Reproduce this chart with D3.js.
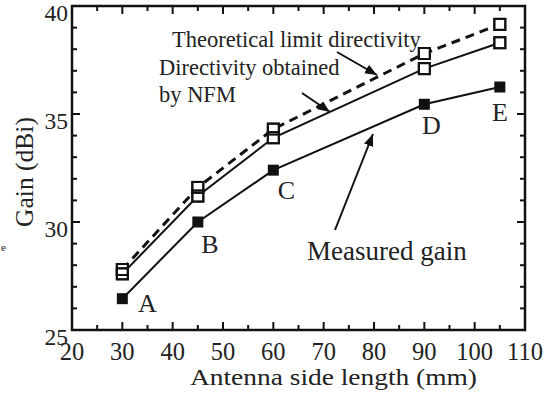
<!DOCTYPE html>
<html lang="en">
<head>
<meta charset="UTF-8">
<title>Gain vs antenna side length</title>
<script src="https://cdn.jsdelivr.net/npm/d3@7"></script>
<style>
  body { margin: 0; background: #fff; }
  svg text { font-family: "Liberation Serif", "DejaVu Serif", serif; fill: #222; }
</style>
</head>
<body>
<svg id="chart" width="556" height="394"></svg>
<script>
// data
var sideLength  = [30, 45, 60, 90, 105];
var theoretical = [27.8, 31.6, 34.3, 37.8, 39.15];
var nfm         = [27.6, 31.2, 33.9, 37.1, 38.3];
var measured    = [26.45, 30.0, 32.4, 35.45, 36.25];
var pointNames  = ["A", "B", "C", "D", "E"];
var xTicks = [20, 30, 40, 50, 60, 70, 80, 90, 100, 110];
var yTicks = [25, 30, 35, 40];

var svg = d3.select("#chart");
var x = d3.scaleLinear().domain([20, 110]).range([72, 525]);
var y = d3.scaleLinear().domain([25, 40]).range([330, 6]);

// ticks on all four sides, pointing inward
var minorX = d3.range(20, 111, 5), minorY = d3.range(25, 41, 1);
var tk = svg.append("g").attr("stroke", "#111").attr("stroke-width", 2);
minorX.forEach(function (v) {
    var len = v % 10 === 0 ? 8 : 5;
    tk.append("line").attr("x1", x(v)).attr("x2", x(v)).attr("y1", y(25)).attr("y2", y(25) - len);
    tk.append("line").attr("x1", x(v)).attr("x2", x(v)).attr("y1", y(40)).attr("y2", y(40) + len);
});
minorY.forEach(function (v) {
    var len = v % 5 === 0 ? 8 : 5;
    tk.append("line").attr("y1", y(v)).attr("y2", y(v)).attr("x1", x(20)).attr("x2", x(20) + len);
    tk.append("line").attr("y1", y(v)).attr("y2", y(v)).attr("x1", x(110)).attr("x2", x(110) - len);
});

svg.append("rect")
    .attr("x", x(20)).attr("y", y(40))
    .attr("width", x(110) - x(20)).attr("height", y(25) - y(40))
    .attr("fill", "none").attr("stroke", "#111").attr("stroke-width", 2.5);

// tick labels
svg.append("g").selectAll("text").data(xTicks).join("text")
    .attr("x", function (d) { return x(d); }).attr("y", 360)
    .attr("text-anchor", "middle").attr("font-size", 24.5)
    .text(function (d) { return d; });
svg.append("g").selectAll("text").data(yTicks).join("text")
    .attr("x", x(20) - 4).attr("y", function (d) { return y(d) + 15; })
    .attr("text-anchor", "end").attr("font-size", 23.5)
    .text(function (d) { return d; });

// axis titles
svg.append("text").attr("x", 190).attr("y", 385)
    .attr("font-size", 24).attr("textLength", 287).attr("lengthAdjust", "spacingAndGlyphs")
    .text("Antenna side length (mm)");
svg.append("text")
    .attr("transform", "translate(33,172) rotate(-90)")
    .attr("text-anchor", "middle").attr("font-size", 25.5)
    .text("Gain (dBi)");
// small stray mark at the left edge of the scan
svg.append("text").attr("x", 1).attr("y", 251).attr("font-size", 11).text("e");

// lines
var line = d3.line()
    .x(function (d, i) { return x(sideLength[i]); })
    .y(function (d) { return y(d); });
svg.append("path").attr("d", line(theoretical)).attr("fill", "none")
    .attr("stroke", "#111").attr("stroke-width", 3).attr("stroke-dasharray", "9,6");
svg.append("path").attr("d", line(nfm)).attr("fill", "none")
    .attr("stroke", "#111").attr("stroke-width", 2);
svg.append("path").attr("d", line(measured)).attr("fill", "none")
    .attr("stroke", "#111").attr("stroke-width", 2);

// markers
var s = 11;
function squares(vals, filled) {
    svg.append("g").selectAll("rect").data(vals).join("rect")
        .attr("x", function (d, i) { return x(sideLength[i]) - s / 2; })
        .attr("y", function (d) { return y(d) - s / 2; })
        .attr("width", s).attr("height", s)
        .attr("fill", filled === true ? "#111" : filled === false ? "#fff" : "none")
        .attr("stroke", filled === true ? "none" : "#111").attr("stroke-width", 2);
}
squares(theoretical, false);
squares(nfm, false);
// outlines again so overlapping open squares both show
squares(theoretical, null);
squares(nfm, null);
squares(measured, true);

// point letters
var letterOff = [[25, 13], [12, 31], [13, 29], [7, 30], [0, 34]];
svg.append("g").selectAll("text").data(pointNames).join("text")
    .attr("x", function (d, i) { return x(sideLength[i]) + letterOff[i][0]; })
    .attr("y", function (d, i) { return y(measured[i]) + letterOff[i][1]; })
    .attr("text-anchor", "middle").attr("font-size", 26)
    .text(function (d) { return d; });

// annotations
svg.append("defs").append("marker")
    .attr("id", "head").attr("viewBox", "0 0 10 10")
    .attr("refX", 10).attr("refY", 5)
    .attr("markerWidth", 6).attr("markerHeight", 6)
    .attr("markerUnits", "strokeWidth").attr("orient", "auto")
    .append("path").attr("d", "M0,1 L10,5 L0,9 Z").attr("fill", "#111");

function arrow(x1, y1, x2, y2) {
    svg.append("line").attr("x1", x1).attr("y1", y1).attr("x2", x2).attr("y2", y2)
        .attr("stroke", "#111").attr("stroke-width", 2).attr("marker-end", "url(#head)");
}
svg.append("text").attr("x", 172).attr("y", 47).attr("font-size", 22.5).text("Theoretical limit directivity");
svg.append("text").attr("x", 159).attr("y", 75).attr("font-size", 22.5).text("Directivity obtained");
svg.append("text").attr("x", 159).attr("y", 102).attr("font-size", 22.5).text("by NFM");
svg.append("text").attr("x", 307).attr("y", 260).attr("font-size", 27).text("Measured gain");
arrow(337, 52, 377, 75);
arrow(302, 93, 330, 112);
arrow(335, 230, 373, 134);
</script>
</body>
</html>
